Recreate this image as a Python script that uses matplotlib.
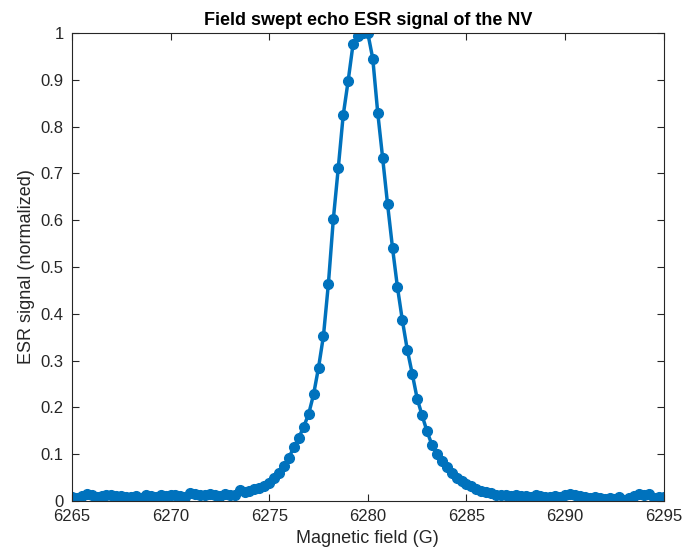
import matplotlib
matplotlib.use("Agg")
import matplotlib.pyplot as plt

# sweep positions (G) and normalized echo signal
field = [
    6265.00, 6265.25, 6265.50, 6265.75, 6266.00, 6266.25, 6266.50, 6266.75,
    6267.00, 6267.25, 6267.50, 6267.75, 6268.00, 6268.25, 6268.50, 6268.75,
    6269.00, 6269.25, 6269.50, 6269.75, 6270.00, 6270.25, 6270.50, 6270.75,
    6271.00, 6271.25, 6271.50, 6271.75, 6272.00, 6272.25, 6272.50, 6272.75,
    6273.00, 6273.25, 6273.50, 6273.75, 6274.00, 6274.25, 6274.50, 6274.75,
    6275.00, 6275.25, 6275.50, 6275.75, 6276.00, 6276.25, 6276.50, 6276.75,
    6277.00, 6277.25, 6277.50, 6277.75, 6278.00, 6278.25, 6278.50, 6278.75,
    6279.00, 6279.25, 6279.50, 6279.75, 6280.00, 6280.25, 6280.50, 6280.75,
    6281.00, 6281.25, 6281.50, 6281.75, 6282.00, 6282.25, 6282.50, 6282.75,
    6283.00, 6283.25, 6283.50, 6283.75, 6284.00, 6284.25, 6284.50, 6284.75,
    6285.00, 6285.25, 6285.50, 6285.75, 6286.00, 6286.25, 6286.50, 6286.75,
    6287.00, 6287.25, 6287.50, 6287.75, 6288.00, 6288.25, 6288.50, 6288.75,
    6289.00, 6289.25, 6289.50, 6289.75, 6290.00, 6290.25, 6290.50, 6290.75,
    6291.00, 6291.25, 6291.50, 6291.75, 6292.00, 6292.25, 6292.50, 6292.75,
    6293.00, 6293.25, 6293.50, 6293.75, 6294.00, 6294.25, 6294.50, 6294.75,
    6295.00,
]
signal = [
    0.008, 0.007, 0.010, 0.015, 0.012, 0.009, 0.011, 0.013,
    0.012, 0.010, 0.011, 0.009, 0.008, 0.010, 0.007, 0.014,
    0.011, 0.008, 0.012, 0.010, 0.013, 0.012, 0.010, 0.009,
    0.018, 0.015, 0.014, 0.012, 0.015, 0.013, 0.011, 0.016,
    0.012, 0.014, 0.024, 0.020, 0.022, 0.025, 0.029, 0.033,
    0.039, 0.050, 0.061, 0.076, 0.093, 0.115, 0.135, 0.159,
    0.186, 0.228, 0.285, 0.353, 0.464, 0.602, 0.711, 0.824,
    0.897, 0.976, 0.993, 1.000, 0.999, 0.945, 0.830, 0.733,
    0.634, 0.541, 0.457, 0.386, 0.323, 0.272, 0.219, 0.183,
    0.149, 0.120, 0.100, 0.086, 0.072, 0.061, 0.050, 0.043,
    0.037, 0.032, 0.026, 0.022, 0.020, 0.017, 0.014, 0.012,
    0.013, 0.011, 0.012, 0.010, 0.011, 0.009, 0.012, 0.010,
    0.009, 0.008, 0.010, 0.009, 0.012, 0.016, 0.013, 0.010,
    0.009, 0.007, 0.008, 0.006, 0.004, 0.006, 0.004, 0.008,
    0.003, 0.006, 0.010, 0.015, 0.012, 0.016, 0.006, 0.008,
    0.009,
]
x_ticks = [6265, 6270, 6275, 6280, 6285, 6290, 6295]
y_ticks = [0, 0.1, 0.2, 0.3, 0.4, 0.5, 0.6, 0.7, 0.8, 0.9, 1]
y_ticklabels = ["0", "0.1", "0.2", "0.3", "0.4", "0.5", "0.6", "0.7", "0.8", "0.9", "1"]

plt.rcParams['font.family'] = ['Liberation Sans', 'DejaVu Sans']

fig = plt.figure(figsize=(6.85, 5.58), dpi=100)
ax = fig.add_axes([0.105, 0.102, 0.864, 0.839])

ax.plot(field, signal, '-o', color='#0072BD', linewidth=2.5, markersize=7)

ax.set_xlim(6265, 6295)
ax.set_ylim(0, 1)
ax.set_xticks(x_ticks)
ax.set_yticks(y_ticks)
ax.set_yticklabels(y_ticklabels)
ax.tick_params(direction='in', top=True, right=True, length=5, width=0.8,
               colors='#262626', labelsize=12, pad=6)
for side in ax.spines.values():
    side.set_color('#262626')
    side.set_linewidth(0.8)

ax.set_xlabel("Magnetic field (G)", fontsize=13, color='#262626')
ax.set_ylabel("ESR signal (normalized)", fontsize=13, color='#262626')
ax.set_title("Field swept echo ESR signal of the NV", fontsize=13,
             fontweight='bold', color='black', pad=6)

fig.savefig("out.png", dpi=100)
